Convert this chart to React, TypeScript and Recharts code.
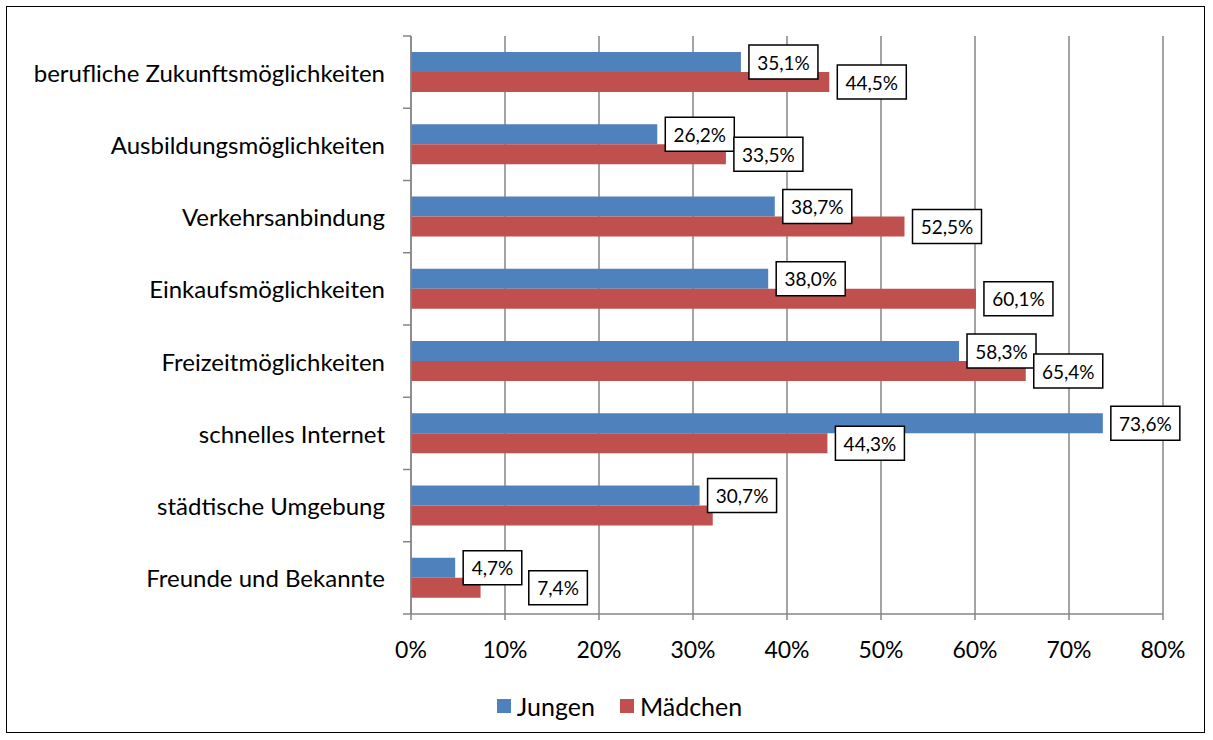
import React from 'react';
import { BarChart, Bar, XAxis, YAxis, CartesianGrid, Legend, LabelList } from 'recharts';

const categories = [
  'berufliche Zukunftsmöglichkeiten',
  'Ausbildungsmöglichkeiten',
  'Verkehrsanbindung',
  'Einkaufsmöglichkeiten',
  'Freizeitmöglichkeiten',
  'schnelles Internet',
  'städtische Umgebung',
  'Freunde und Bekannte',
];
const jungen = [35.1, 26.2, 38.7, 38.0, 58.3, 73.6, 30.7, 4.7];
const maedchen = [44.5, 33.5, 52.5, 60.1, 65.4, 44.3, 32.1, 7.4];
// the original leaves one Mädchen bar without its value box
const maedchenLabelShown = [true, true, true, true, true, true, false, true];
const xTicks = [0, 10, 20, 30, 40, 50, 60, 70, 80];

const BLUE = '#4F81BD';
const RED = '#C0504D';
const GRID = '#868686';
const FONT = 'Lato, "Liberation Sans", sans-serif';

const fmt = (v: number) => v.toFixed(1).replace('.', ',') + '%';
const boxWidth = (t: string) => t.length * 10.4 + 17;

const data = categories.map((name, i) => ({
  name,
  Jungen: jungen[i],
  Maedchen: maedchen[i],
  jLabel: fmt(jungen[i]),
  mLabel: maedchenLabelShown[i] ? fmt(maedchen[i]) : null,
}));

const drawBox = (bx: number, cy: number, text: string) => {
  const w = boxWidth(text);
  return (
    <g>
      <rect x={bx} y={cy - 17} width={w} height={34} fill="#fff" stroke="#000" strokeWidth={1.5} />
      <text x={bx + w / 2} y={cy} textAnchor="middle" dominantBaseline="central"
        fontSize={19} fontFamily={FONT} fill="#000">{text}</text>
    </g>
  );
};

const JungenBox = (props: any) => {
  const { x, y, width, height, value } = props;
  if (value == null) return null;
  return drawBox(Number(x) + Number(width) + 8, Number(y) + Number(height) / 2, String(value));
};

// red boxes move right when they would sit on top of the blue box of the same row
const MaedchenBox = (props: any) => {
  const { x, y, width, height, value, index } = props;
  if (value == null) return null;
  const px = Number(x), pw = Number(width);
  let bx = px + pw + 8;
  const w = boxWidth(String(value));
  const blueLeft = px + pw * (jungen[index] / maedchen[index]) + 8;
  const blueRight = blueLeft + boxWidth(fmt(jungen[index]));
  const overlap = Math.min(blueRight, bx + w) - Math.max(blueLeft, bx);
  if (overlap > 10) bx = blueRight + 7;
  return drawBox(bx, Number(y) + Number(height) / 2, String(value));
};

const CategoryTick = (props: any) => {
  const { x, y, payload, index, visibleTicksCount } = props;
  const off = payload && payload.offset ? payload.offset : 36;
  const axisX = x + 26;
  return (
    <g>
      <text x={x} y={y} textAnchor="end" dominantBaseline="central" fontSize={24} fontFamily={FONT} fill="#000">
        {payload.value}
      </text>
      <line x1={axisX - 8} x2={axisX} y1={y - off} y2={y - off} stroke={GRID} strokeWidth={1.5} />
      {index === visibleTicksCount - 1 && (
        <line x1={axisX - 8} x2={axisX} y1={y + off} y2={y + off} stroke={GRID} strokeWidth={1.5} />
      )}
    </g>
  );
};

const LegendBox = () => (
  <div style={{ display: 'flex', justifyContent: 'center', paddingTop: 38, paddingLeft: 94, fontFamily: FONT, fontSize: 25, color: '#000' }}>
    {[{ name: 'Jungen', color: BLUE }, { name: 'Mädchen', color: RED }].map((it) => (
      <div key={it.name} style={{ display: 'flex', alignItems: 'center', marginRight: 25, lineHeight: '28px' }}>
        <span style={{ width: 14, height: 14, background: it.color, marginRight: 6, display: 'inline-block' }} />
        {it.name}
      </div>
    ))}
  </div>
);

export default function App() {
  return (
    <div style={{ position: 'absolute', left: 6, top: 6, width: 1197, height: 725, border: '1.5px solid #000', background: '#fff' }}>
      <BarChart
        width={1197}
        height={725}
        data={data}
        layout="vertical"
        margin={{ top: 29, right: 41, left: 0, bottom: 10 }}
        barSize={20}
        barGap={0}
      >
        <CartesianGrid horizontal={false} stroke={GRID} strokeWidth={1.5} />
        <XAxis
          type="number"
          domain={[0, 80]}
          ticks={xTicks}
          tickFormatter={(v) => `${v}%`}
          height={40}
          stroke={GRID}
          strokeWidth={1.5}
          tickSize={6}
          tickMargin={22}
          tick={{ fill: '#000', fontSize: 23, fontFamily: FONT }}
          interval={0}
        />
        <YAxis
          type="category"
          dataKey="name"
          width={404}
          stroke={GRID}
          strokeWidth={1.5}
          tickLine={false}
          tickSize={8}
          tickMargin={18}
          tick={<CategoryTick />}
          interval={0}
        />
        <Legend verticalAlign="bottom" height={68} content={<LegendBox />} />
        <Bar dataKey="Jungen" name="Jungen" fill={BLUE} isAnimationActive={false}>
          <LabelList dataKey="jLabel" content={<JungenBox />} />
        </Bar>
        <Bar dataKey="Maedchen" name="Mädchen" fill={RED} isAnimationActive={false}>
          <LabelList dataKey="mLabel" content={<MaedchenBox />} />
        </Bar>
      </BarChart>
    </div>
  );
}
